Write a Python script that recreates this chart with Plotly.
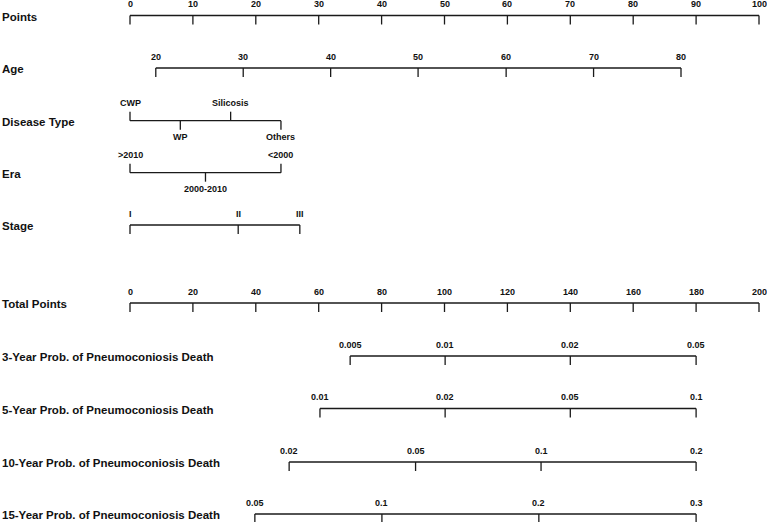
import plotly.graph_objects as go

# ---------------- data ----------------
points_ticks = [0, 10, 20, 30, 40, 50, 60, 70, 80, 90, 100]

age_labels = ["20", "30", "40", "50", "60", "70", "80"]
age_points = [4.1, 18.0, 31.9, 45.8, 59.8, 73.7, 87.6]

disease_labels = ["CWP", "WP", "Silicosis", "Others"]
disease_points = [0, 8.0, 16.0, 24.0]
disease_side = ["up", "down", "up", "down"]

era_labels = [">2010", "2000-2010", "<2000"]
era_points = [0, 12.0, 24.0]
era_side = ["up", "down", "up"]

stage_labels = ["I", "II", "III"]
stage_points = [0, 17.2, 27.0]

total_ticks = [0, 20, 40, 60, 80, 100, 120, 140, 160, 180, 200]

p3_labels = ["0.005", "0.01", "0.02", "0.05"]
p3_total = [70, 100.2, 140, 180]
p5_labels = ["0.01", "0.02", "0.05", "0.1"]
p5_total = [60.4, 100.2, 140, 180]
p10_labels = ["0.02", "0.05", "0.1", "0.2"]
p10_total = [50.6, 90.8, 130.7, 180]
p15_labels = ["0.05", "0.1", "0.2", "0.3"]
p15_total = [39.7, 80.1, 130, 180]

# ---------------- layout params ----------------
W, H = 767, 522
X0, PX = 130, 6.29           # pixel of 0 points, px per point
row_y = {
    "Points": 15.5, "Age": 68, "Disease Type": 120.7, "Era": 172.7,
    "Stage": 225, "Total Points": 303,
    "3-Year Prob. of Pneumoconiosis Death": 356,
    "5-Year Prob. of Pneumoconiosis Death": 408.5,
    "10-Year Prob. of Pneumoconiosis Death": 462,
    "15-Year Prob. of Pneumoconiosis Death": 514,
}
TICK = 9
LAB_UP = 11.5
LAB_UP_ALT = 17.5
LAB_DN_ALT = 16.5
LINE_COL = "#1a1a1a"
FONT = "Liberation Sans, Arial, sans-serif"

xs, ys = [], []
annotations = []


def add_text(x, y, txt, size=9, bold=True, anchor="center"):
    annotations.append(dict(
        x=x, y=y, xref="x", yref="y", text=f"<b>{txt}</b>" if bold else txt,
        showarrow=False, xanchor=anchor, yanchor="middle",
        font=dict(family=FONT, size=size, color="#111111")))


def scale(name, positions, labels, sides=None):
    y = row_y[name]
    xs.extend([min(positions), max(positions), None])
    ys.extend([y, y, None])
    for i, (p, lab) in enumerate(zip(positions, labels)):
        side = sides[i] if sides else "down"
        if side == "down":
            xs.extend([p, p, None]); ys.extend([y, y + TICK, None])
            if sides:
                add_text(p, y + LAB_DN_ALT, lab)
            else:
                add_text(p, y - LAB_UP, lab)
        else:
            xs.extend([p, p, None]); ys.extend([y, y - TICK, None])
            add_text(p, y - LAB_UP_ALT, lab)
    add_text(-X0 / PX, y + 1, name, size=11.5, bold=True, anchor="left")


scale("Points", points_ticks, [str(v) for v in points_ticks])
scale("Age", age_points, age_labels)
scale("Disease Type", disease_points, disease_labels, disease_side)
scale("Era", era_points, era_labels, era_side)
scale("Stage", stage_points, stage_labels)
scale("Total Points", [t / 2 for t in total_ticks], [str(v) for v in total_ticks])
scale("3-Year Prob. of Pneumoconiosis Death", [t / 2 for t in p3_total], p3_labels)
scale("5-Year Prob. of Pneumoconiosis Death", [t / 2 for t in p5_total], p5_labels)
scale("10-Year Prob. of Pneumoconiosis Death", [t / 2 for t in p10_total], p10_labels)
scale("15-Year Prob. of Pneumoconiosis Death", [t / 2 for t in p15_total], p15_labels)

fig = go.Figure(go.Scatter(x=xs, y=ys, mode="lines",
                           line=dict(color=LINE_COL, width=1.3),
                           hoverinfo="skip", showlegend=False))
fig.update_layout(
    width=W, height=H, margin=dict(l=0, r=0, t=0, b=0),
    paper_bgcolor="white", plot_bgcolor="white",
    xaxis=dict(range=[-X0 / PX, (W - X0) / PX], visible=False, fixedrange=True),
    yaxis=dict(range=[H, 0], visible=False, fixedrange=True),
    annotations=annotations,
)
fig.write_html("out.html")
